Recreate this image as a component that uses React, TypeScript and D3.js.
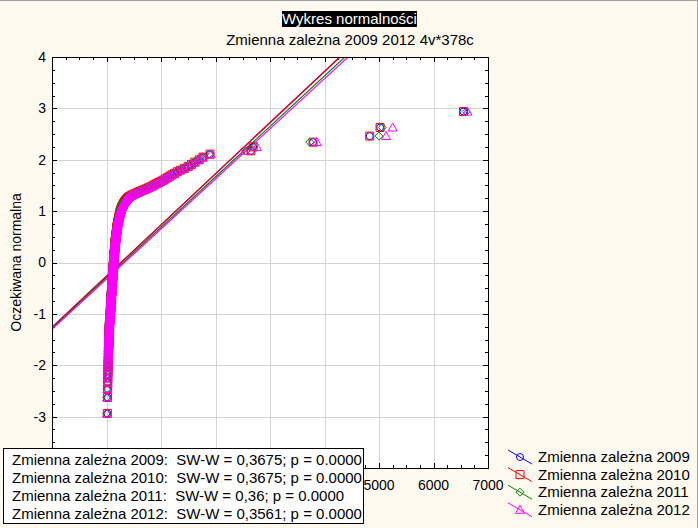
import React from "react";
import * as d3 from "d3";

// ---------- data ----------
const seriesNames = ["Zmienna zależna 2009", "Zmienna zależna 2010", "Zmienna zależna 2011", "Zmienna zależna 2012"];
const seriesColors = ["#0000ff", "#ff0000", "#008000", "#ff00ff"];
const seriesSymbols = ["circle", "square", "diamond", "triangle"];

const values2009 = [
  15, 20, 22, 24, 25, 27, 28, 30, 31, 33,
  34, 35, 35, 36, 37, 37, 38, 39, 39, 40, 41, 41, 42, 43, 44, 45,
  45, 46, 46, 47, 47, 48, 48, 49, 49, 50, 51, 51, 52, 52, 53, 54, 54, 55, 56, 56, 57, 58, 59, 60, 61, 62, 63, 64, 65, 66, 67, 68, 69, 70,
  70, 71, 71, 72, 72, 73, 73, 74, 74, 75, 75, 76, 76, 77, 77, 78, 78, 79, 79, 80, 80, 81, 81, 82, 82, 83, 83, 84, 84, 85, 85, 86, 86, 87, 87, 88, 88, 89, 89, 90, 90, 91, 91, 92, 92, 93, 93, 94, 94, 95, 96, 96, 97, 97, 98, 99, 100,
  100, 100, 101, 101, 102, 102, 102, 103, 103, 104, 104, 104, 105, 105, 106, 106, 106, 107, 107, 108, 108, 108, 109, 109, 110, 110, 110, 111, 111, 112, 112, 112, 113, 113, 114, 114, 114, 115, 115, 116, 116, 116, 117, 117, 118, 118, 118, 119, 119, 120, 120, 121, 121, 122, 122, 123, 123, 124, 124, 125, 125, 126, 126, 127, 127, 128, 128, 129, 129, 130, 130, 130, 130,
  131, 131, 132, 132, 133, 133, 134, 134, 135, 135, 136, 136, 137, 137, 138, 138, 139, 139, 140, 140, 141, 141, 142, 142, 143, 143, 144, 144, 145, 145, 146, 146, 147, 147, 148, 148, 149, 149, 150, 150, 151, 151, 152, 152, 153, 153, 154, 154, 155, 155, 156, 157, 157, 158, 159, 159, 160, 160, 161, 162, 162, 163, 164, 165, 165, 166, 167, 168, 169, 170, 171, 172,
  173, 174, 175, 176, 177, 178, 179, 180, 181, 182, 183, 184, 185, 186, 187, 188, 189, 190, 191, 192, 193, 194, 195, 196, 197, 198, 199, 200, 201, 202, 203, 205, 207, 209, 211, 213,
  215, 217, 219, 221, 223, 225, 227, 229, 231, 233, 235, 237, 239, 241, 243, 245, 247, 249, 251, 253, 256,
  260, 264, 268, 272, 276, 280, 285, 290,
  296, 302, 308, 315, 322, 330, 338, 346,
  356, 366, 378, 390, 405, 425, 450, 475, 505, 540, 575, 610, 650, 690, 730, 770, 810, 850,
  880, 920, 960, 1000, 1040, 1080, 1120, 1160, 1200, 1250, 1300, 1360, 1430, 1500, 1560, 1620, 1700,
  1770, 1900, 2650, 2690, 3790, 4830, 5020, 6550,
];

const values2010 = [
  15, 20, 22, 24, 25, 27, 28, 30, 31, 33,
  34, 35, 35, 36, 37, 37, 38, 39, 39, 40, 41, 41, 42, 43, 44, 45,
  45, 46, 46, 47, 47, 48, 48, 49, 49, 50, 51, 51, 52, 52, 53, 54, 54, 55, 56, 56, 57, 58, 59, 60, 61, 62, 63, 64, 65, 66, 67, 68, 69, 70,
  70, 71, 71, 72, 72, 73, 73, 74, 74, 75, 75, 76, 76, 77, 77, 78, 78, 79, 79, 80, 80, 81, 81, 82, 82, 83, 83, 84, 84, 85, 85, 86, 86, 87, 87, 88, 88, 89, 89, 90, 90, 91, 91, 92, 92, 93, 93, 94, 94, 95, 96, 96, 97, 97, 98, 99, 100,
  100, 100, 101, 101, 102, 102, 102, 103, 103, 104, 104, 104, 105, 105, 106, 106, 106, 107, 107, 108, 108, 108, 109, 109, 110, 110, 110, 111, 111, 112, 112, 112, 113, 113, 114, 114, 114, 115, 115, 116, 116, 116, 117, 117, 118, 118, 118, 119, 119, 120, 120, 121, 121, 122, 122, 123, 123, 124, 124, 125, 125, 126, 126, 127, 127, 128, 128, 129, 129, 130, 130, 130, 130,
  131, 131, 132, 132, 133, 133, 134, 134, 135, 135, 136, 136, 137, 137, 138, 138, 139, 139, 140, 140, 141, 141, 142, 142, 143, 143, 144, 144, 145, 145, 146, 146, 147, 147, 148, 148, 149, 149, 150, 150, 151, 151, 152, 152, 153, 153, 154, 154, 155, 155, 156, 157, 157, 158, 159, 159, 160, 160, 161, 162, 162, 163, 164, 165, 165, 166, 167, 168, 169, 170, 171, 172,
  173, 174, 175, 176, 177, 178, 179, 180, 181, 182, 183, 184, 185, 186, 187, 188, 189, 190, 191, 192, 193, 194, 195, 196, 197, 198, 199, 200, 201, 202, 203, 205, 207, 209, 211, 213,
  215, 217, 219, 221, 223, 225, 227, 229, 231, 233, 235, 237, 239, 241, 243, 245, 247, 249, 251, 253, 256,
  260, 264, 268, 272, 276, 280, 285, 290,
  296, 302, 308, 315, 322, 330, 338, 346,
  356, 366, 378, 390, 405, 425, 450, 475, 505, 540, 575, 610, 650, 690, 730, 770, 810, 850,
  880, 920, 960, 1000, 1040, 1080, 1120, 1160, 1200, 1250, 1300, 1360, 1430, 1500, 1560, 1620, 1700,
  1770, 1900, 2650, 2690, 3790, 4830, 5020, 6550,
];

const values2011 = [
  2, 5, 8, 10, 12, 14, 16, 18, 20, 22,
  23, 24, 25, 26, 27, 28, 29, 30, 31, 32, 33, 34, 35, 36, 37, 38,
  39, 39, 40, 40, 41, 41, 42, 42, 43, 44, 44, 45, 46, 46, 47, 48, 48, 49, 50, 50, 51, 52, 53, 54, 55, 56, 57, 58, 59, 60, 61, 62, 63, 64,
  64, 65, 65, 66, 66, 67, 67, 68, 68, 69, 69, 70, 70, 71, 71, 72, 72, 73, 73, 74, 74, 75, 75, 76, 76, 77, 77, 78, 78, 79, 79, 80, 80, 81, 81, 82, 82, 83, 83, 84, 84, 85, 85, 86, 86, 87, 87, 88, 88, 89, 89, 90, 90, 91, 91, 92, 93,
  93, 94, 94, 95, 95, 96, 96, 97, 97, 98, 98, 98, 99, 99, 100, 100, 101, 101, 102, 102, 102, 103, 103, 104, 104, 105, 105, 106, 106, 106, 107, 107, 108, 108, 109, 109, 110, 110, 110, 111, 111, 112, 112, 113, 113, 114, 114, 114, 115, 115, 116, 116, 117, 117, 118, 118, 119, 119, 120, 120, 121, 121, 122, 122, 123, 123, 124, 124, 125, 125, 126, 126, 127,
  127, 128, 128, 129, 129, 130, 130, 131, 131, 132, 132, 133, 133, 134, 134, 135, 135, 136, 136, 137, 137, 138, 138, 139, 139, 140, 140, 141, 141, 142, 142, 143, 143, 144, 144, 145, 145, 146, 146, 147, 147, 148, 148, 149, 149, 150, 150, 151, 151, 152, 152, 153, 154, 154, 155, 156, 156, 157, 158, 158, 159, 160, 161, 162, 162, 163, 164, 165, 166, 167, 168, 169,
  170, 171, 172, 173, 174, 175, 176, 177, 178, 179, 180, 181, 182, 183, 184, 185, 186, 187, 188, 189, 190, 191, 192, 193, 194, 195, 196, 197, 198, 199, 200, 201, 203, 205, 207, 209,
  210, 212, 214, 216, 218, 220, 222, 224, 226, 228, 230, 232, 234, 236, 238, 240, 242, 244, 246, 248, 250,
  253, 256, 259, 262, 265, 268, 272, 276,
  280, 285, 290, 296, 302, 310, 318, 326,
  335, 345, 356, 368, 382, 400, 422, 448, 478, 512, 548, 585, 625, 665, 705, 745, 785, 825,
  860, 900, 940, 980, 1020, 1060, 1100, 1140, 1180, 1230, 1280, 1340, 1410, 1480, 1540, 1600, 1680,
  1740, 1880, 2560, 2700, 3730, 5000, 5060, 6600,
];

const values2012 = [
  8, 12, 15, 17, 19, 21, 23, 25, 27, 29,
  30, 31, 32, 33, 34, 35, 36, 36, 37, 38, 39, 40, 41, 42, 43, 44,
  44, 45, 45, 46, 46, 47, 47, 48, 48, 49, 50, 50, 51, 51, 52, 53, 53, 54, 55, 55, 56, 57, 58, 59, 60, 61, 62, 63, 64, 65, 66, 67, 68, 69,
  69, 70, 70, 71, 71, 72, 72, 73, 73, 74, 74, 75, 75, 76, 76, 77, 77, 78, 78, 79, 79, 80, 80, 81, 81, 82, 82, 83, 83, 84, 84, 85, 85, 86, 86, 87, 87, 88, 88, 89, 89, 90, 90, 91, 91, 92, 92, 93, 93, 94, 95, 95, 96, 96, 97, 98, 98,
  99, 99, 100, 100, 101, 101, 101, 102, 102, 103, 103, 103, 104, 104, 105, 105, 105, 106, 106, 107, 107, 107, 108, 108, 109, 109, 109, 110, 110, 111, 111, 111, 112, 112, 113, 113, 113, 114, 114, 115, 115, 115, 116, 116, 117, 117, 117, 118, 118, 119, 119, 120, 120, 121, 121, 122, 122, 123, 123, 124, 124, 125, 125, 126, 126, 127, 127, 128, 128, 129, 129, 129, 130,
  130, 131, 131, 132, 132, 133, 133, 134, 134, 135, 135, 136, 136, 137, 137, 138, 138, 139, 139, 140, 140, 141, 141, 142, 142, 143, 143, 144, 144, 145, 145, 146, 146, 147, 147, 148, 148, 149, 149, 150, 150, 151, 151, 152, 152, 153, 153, 154, 154, 155, 155, 156, 157, 157, 158, 159, 159, 160, 161, 161, 162, 163, 164, 165, 165, 166, 167, 168, 169, 170, 171, 172,
  172, 173, 174, 175, 176, 177, 178, 179, 180, 181, 182, 183, 184, 185, 186, 187, 188, 189, 190, 191, 192, 193, 194, 195, 196, 197, 198, 199, 200, 201, 202, 204, 206, 208, 210, 212,
  213, 215, 217, 219, 221, 223, 225, 227, 229, 231, 233, 235, 237, 239, 241, 243, 245, 247, 249, 251, 254,
  257, 261, 265, 269, 273, 277, 282, 287,
  292, 298, 304, 311, 318, 326, 334, 342,
  352, 362, 374, 386, 400, 420, 445, 470, 500, 535, 570, 605, 645, 685, 725, 765, 805, 845,
  875, 915, 955, 995, 1035, 1075, 1115, 1155, 1195, 1245, 1295, 1355, 1425, 1495, 1555, 1615, 1695,
  1760, 1910, 2540, 2760, 3860, 5130, 5250, 6620,
];

// fitted normal reference lines (mean, sd)
const fitMeans = [267, 267, 303, 332];
const fitSds = [1004, 1004, 1018, 1025];

const swwLabels = [
  "Zmienna zależna 2009:  SW-W = 0,3675; p = 0.0000",
  "Zmienna zależna 2010:  SW-W = 0,3675; p = 0.0000",
  "Zmienna zależna 2011:  SW-W = 0,36; p = 0.0000",
  "Zmienna zależna 2012:  SW-W = 0,3561; p = 0.0000",
];

const xTicks = [-1000, 0, 1000, 2000, 3000, 4000, 5000, 6000, 7000];
const yTicks = [-4, -3, -2, -1, 0, 1, 2, 3, 4];
// tick labels that are not hidden behind the statistics box
const xTickLabels = [5000, 6000, 7000];
const yTickLabels = [-3, -2, -1, 0, 1, 2, 3, 4];

const titleText = "Wykres normalności";
const subtitleText = "Zmienna zależna 2009 2012 4v*378c";
const yAxisLabel = "Oczekiwana normalna";

// ---------- helpers ----------
function invNorm(p: number): number {
  const a = [-3.969683028665376e1, 2.209460984245205e2, -2.759285104469687e2, 1.38357751867269e2, -3.066479806614716e1, 2.506628277459239];
  const b = [-5.447609879822406e1, 1.615858368580409e2, -1.556989798598866e2, 6.680131188771972e1, -1.328068155288572e1];
  const c = [-7.784894002430293e-3, -3.223964580411365e-1, -2.400758277161838, -2.549732518549087, 4.374664141464968, 2.938163982698783];
  const d = [7.784695709041462e-3, 3.224671290700398e-1, 2.445134137142996, 3.754408661907416];
  const pl = 0.02425;
  if (p < pl) {
    const q = Math.sqrt(-2 * Math.log(p));
    return (((((c[0] * q + c[1]) * q + c[2]) * q + c[3]) * q + c[4]) * q + c[5]) / ((((d[0] * q + d[1]) * q + d[2]) * q + d[3]) * q + 1);
  }
  if (p <= 1 - pl) {
    const q = p - 0.5;
    const r = q * q;
    return ((((((a[0] * r + a[1]) * r + a[2]) * r + a[3]) * r + a[4]) * r + a[5]) * q) / (((((b[0] * r + b[1]) * r + b[2]) * r + b[3]) * r + b[4]) * r + 1);
  }
  const q = Math.sqrt(-2 * Math.log(1 - p));
  return -(((((c[0] * q + c[1]) * q + c[2]) * q + c[3]) * q + c[4]) * q + c[5]) / ((((d[0] * q + d[1]) * q + d[2]) * q + d[3]) * q + 1);
}

function symbolPath(kind: string): string {
  switch (kind) {
    case "circle":
      return "M3.5,0A3.5,3.5,0,1,1,-3.5,0A3.5,3.5,0,1,1,3.5,0Z";
    case "square":
      return "M-4,-4H4V4H-4Z";
    case "diamond":
      return "M0,-4L4,0L0,4L-4,0Z";
    default:
      return "M0,-4.5L4.5,3.5H-4.5Z";
  }
}

const FONT = "'Liberation Sans', Arial, sans-serif";

export default function App() {
  const W = 698;
  const H = 528;
  const left = 52, right = 488, top = 57, bottom = 468;
  const x = d3.scaleLinear().domain([-1000, 7000]).range([left, right]);
  const y = d3.scaleLinear().domain([-4, 4]).range([bottom, top]);

  const allSeries = [values2009, values2010, values2011, values2012];
  const points = allSeries.map((vals) => {
    const sorted = [...vals].sort((a, b) => a - b);
    const n = sorted.length;
    return sorted.map((v, i) => ({ v, z: invNorm((i + 1 - 0.375) / (n + 0.25)) }));
  });

  const minorX = d3.range(-1000, 7001, 250);
  const minorY = d3.range(-4, 4.001, 0.25);
  const lineGen = d3.line<[number, number]>().x((d) => x(d[0])).y((d) => y(d[1]));

  return (
    <svg width={W} height={H} style={{ position: "absolute", left: 0, top: 0, display: "block" }} fontFamily={FONT}>
      <defs>
        <clipPath id="plotclip">
          <rect x={left} y={top} width={right - left} height={bottom - top} />
        </clipPath>
      </defs>
      <rect x={0} y={0} width={W} height={H} fill="#fef9ee" />
      <line x1={0} x2={W} y1={0.5} y2={0.5} stroke="#a0a0a0" />
      <line x1={697.5} x2={697.5} y1={0} y2={H} stroke="#a0a0a0" />

      {/* titles */}
      <rect x={282} y={11} width={135} height={16} fill="#000" />
      <text x={349.5} y={24} textAnchor="middle" fontSize={15} fill="#fff">{titleText}</text>
      <text x={350} y={45} textAnchor="middle" fontSize={15} fill="#000">{subtitleText}</text>

      {/* plot area */}
      <rect x={left} y={top} width={right - left} height={bottom - top} fill="#fff" />
      {xTicks.map((t) => (
        <line key={"gx" + t} x1={Math.round(x(t)) + 0.5} x2={Math.round(x(t)) + 0.5} y1={top} y2={bottom} stroke="#d4d4d4" />
      ))}
      {yTicks.map((t) => (
        <line key={"gy" + t} x1={left} x2={right} y1={Math.round(y(t)) + 0.5} y2={Math.round(y(t)) + 0.5} stroke="#d4d4d4" />
      ))}

      {/* minor / major ticks, inward on all sides */}
      {minorX.map((t) => {
        const major = t % 1000 === 0;
        const len = major ? 5 : 3;
        const px = Math.round(x(t)) + 0.5;
        return (
          <g key={"tx" + t}>
            <line x1={px} x2={px} y1={top} y2={top + len} stroke="#000" />
            <line x1={px} x2={px} y1={bottom} y2={bottom - len} stroke="#000" />
          </g>
        );
      })}
      {minorY.map((t) => {
        const major = Math.abs(t - Math.round(t)) < 1e-6;
        const len = major ? 5 : 3;
        const py = Math.round(y(t)) + 0.5;
        return (
          <g key={"ty" + t}>
            <line x1={left} x2={left + len} y1={py} y2={py} stroke="#000" />
            <line x1={right} x2={right - len} y1={py} y2={py} stroke="#000" />
          </g>
        );
      })}

      <g clipPath="url(#plotclip)">
        {fitMeans.map((m, i) => (
          <path
            key={"fit" + i}
            d={lineGen([
              [-1000, (-1000 - m) / fitSds[i]],
              [7000, (7000 - m) / fitSds[i]],
            ]) || ""}
            fill="none"
            stroke={seriesColors[i]}
            strokeWidth={1.2}
          />
        ))}
        {points.map((pts, si) => (
          <g key={"s" + si}>
            {pts.map((p, i) => (
              <path
                key={i}
                d={symbolPath(seriesSymbols[si])}
                transform={`translate(${x(p.v)},${y(p.z)})`}
                fill="none"
                stroke={seriesColors[si]}
                strokeWidth={1}
              />
            ))}
          </g>
        ))}
      </g>
      <rect x={left + 0.5} y={top + 0.5} width={right - left} height={bottom - top} fill="none" stroke="#000" />

      {/* tick labels */}
      {yTickLabels.map((t) => (
        <text key={"ly" + t} x={46} y={y(t)} dy="0.35em" textAnchor="end" fontSize={14} fill="#000">{t}</text>
      ))}
      {xTickLabels.map((t) => (
        <text key={"lx" + t} x={x(t)} y={485} dy="0.35em" textAnchor="middle" fontSize={14} fill="#000">{t}</text>
      ))}
      <text transform={`translate(16,${(top + bottom) / 2}) rotate(-90)`} dy="0.35em" textAnchor="middle" fontSize={14} fill="#000">{yAxisLabel}</text>

      {/* legend */}
      {seriesNames.map((name, i) => {
        const cy = 457 + i * 17.6;
        return (
          <g key={"lg" + i}>
            <line x1={508} y1={cy - 7} x2={532} y2={cy + 7} stroke={seriesColors[i]} />
            <path d={symbolPath(seriesSymbols[i])} transform={`translate(520,${cy})`} fill="none" stroke={seriesColors[i]} />
            <text x={538} y={cy} dy="0.35em" fontSize={15} fill="#000">{name}</text>
          </g>
        );
      })}

      {/* SW-W box */}
      <rect x={3.5} y={448.5} width={360} height={75} fill="#fff" stroke="#000" />
      {swwLabels.map((s, i) => (
        <text key={"sw" + i} x={12} y={459.5 + i * 18} dy="0.35em" fontSize={15} fill="#000" style={{ whiteSpace: "pre" }}>{s}</text>
      ))}
    </svg>
  );
}
